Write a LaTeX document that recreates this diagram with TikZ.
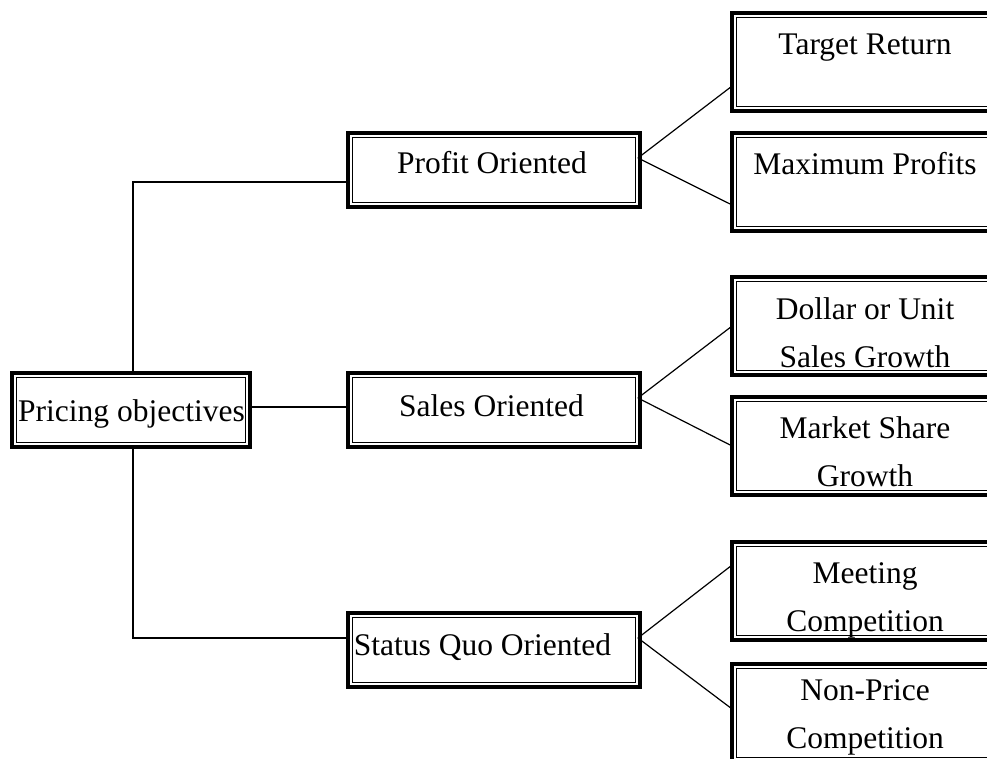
\documentclass[tikz,border=0pt]{standalone}
\usepackage{fontspec}
\setmainfont{Liberation Serif}
\begin{document}
\begin{tikzpicture}[x=1pt,y=-1pt,
  % thick outer frame with a thin inner rule
  dblbox/.style={draw=black, line width=4.2pt, fill=white, rectangle,
    inner sep=0pt, outer sep=0pt,
    path picture={\draw[line width=1.1pt]
      ([shift={(4.4pt,-4.4pt)}]path picture bounding box.north west) rectangle
      ([shift={(-4.4pt,4.4pt)}]path picture bounding box.south east);}},
  midbox/.style={dblbox, minimum width=291.8pt, minimum height=73.8pt},
  leafbox/.style={dblbox, minimum width=267.8pt, minimum height=97.8pt},
  txt/.style={font=\fontsize{31.5}{48}\selectfont, inner sep=0pt, anchor=base, align=center},
  link/.style={draw=black, line width=1.2pt}]

\useasboundingbox (0,0) rectangle (987,758);

% boxes
\node[dblbox, minimum width=237.8pt, minimum height=73.8pt] (P) at (131,410) {};
\node[midbox] (Pr) at (494,170) {};
\node[midbox] (Sa) at (494,410) {};
\node[midbox] (SQ) at (494,650) {};

\node[leafbox] (TR) at (866,62) {};
\node[leafbox] (MP) at (866,182) {};
\node[leafbox] (DU) at (866,326) {};
\node[leafbox] (MS) at (866,446) {};
\node[leafbox] (MC) at (866,591) {};
\node[leafbox] (NP) at (866,713) {};

% labels (multi-line labels are anchored on their last baseline)
\node[txt] (tP)  at (131.5,421) {Pricing objectives};
\node[txt] (tPr) at (492,173) {Profit Oriented};
\node[txt] (tSa) at (491.5,416) {Sales Oriented};
\node[txt] (tSQ) at (482.5,655) {Status Quo Oriented};

\node[txt] (tTR) at (865,54) {Target Return};
\node[txt] (tMP) at (865,174) {Maximum Profits};
\node[txt] (tDU) at (865,367) {Dollar or Unit\\Sales Growth};
\node[txt] (tMS) at (865,486) {Market Share\\Growth};
\node[txt] (tMC) at (865,631) {Meeting\\Competition};
\node[txt] (tNP) at (865,748) {Non-Price\\Competition};

% trunk connectors
\draw[link] ([yshift=3pt]P.east) -- ([yshift=3pt]P.east -| Sa.west);
\draw[link] ([xshift=2pt]P.north) |- ([yshift=-12pt]Pr.west);
\draw[link] ([xshift=2pt]P.south) |- ([yshift=12pt]SQ.west);

% branch connectors
\coordinate (aPr) at ([shift={(-2pt,12pt)}]Pr.east);
\coordinate (aSa) at ([shift={(-2pt,12pt)}]Sa.east);
\coordinate (aSQ) at ([shift={(-2pt,12pt)}]SQ.east);
\draw[link] (aPr) -- ([yshift=-24pt]TR.west);
\draw[link] (aPr) -- ([yshift=-23pt]MP.west);
\draw[link] (aSa) -- (DU.west);
\draw[link] (aSa) -- (MS.west);
\draw[link] (aSQ) -- ([yshift=26pt]MC.west);
\draw[link] (aSQ) -- ([yshift=4pt]NP.west);
\end{tikzpicture}
\end{document}
